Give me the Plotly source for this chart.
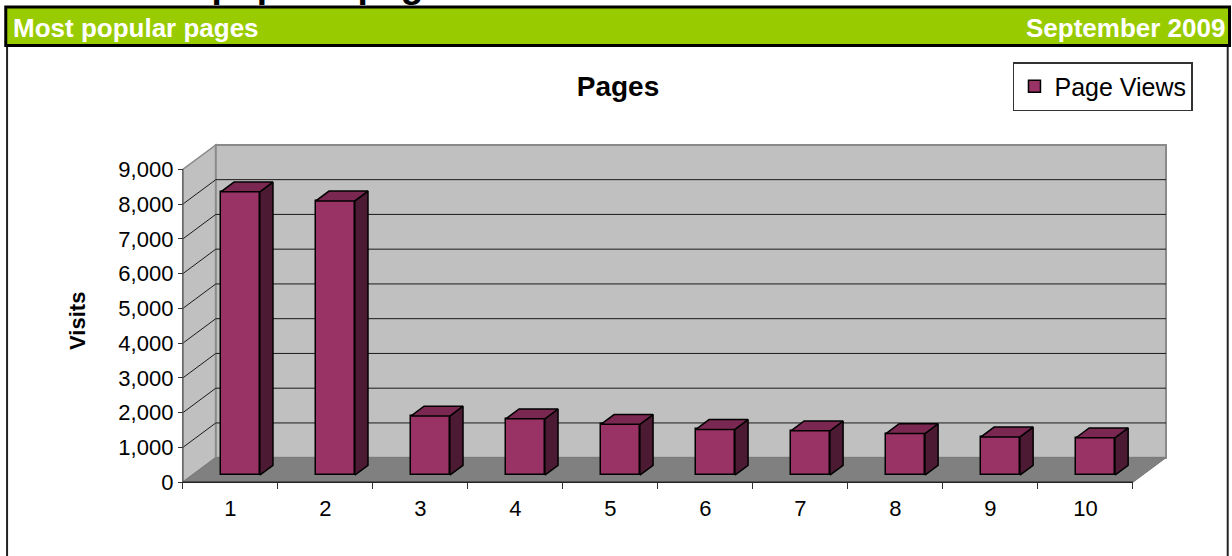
import plotly.graph_objects as go

# ---------------- data ----------------
pages = [1, 2, 3, 4, 5, 6, 7, 8, 9, 10]
page_labels = ["1", "2", "3", "4", "5", "6", "7", "8", "9", "10"]
page_views = [8150, 7890, 1700, 1620, 1460, 1315, 1275, 1195, 1100, 1075]
visit_ticks = [0, 1000, 2000, 3000, 4000, 5000, 6000, 7000, 8000, 9000]
visit_tick_text = ["0", "1,000", "2,000", "3,000", "4,000", "5,000",
                   "6,000", "7,000", "8,000", "9,000"]

# ---------------- geometry ----------------
W, H = 1232, 556
FONT = "Liberation Sans, Arial, sans-serif"
AX_X_PX, CAT_PX = 183.0, 95.0      # front-left corner x, px per category
AX_Y_PX, UNIT_PX = 482.0, 0.03474  # front floor y, px per visit
X_RANGE = [0.46, 10.9]
Y_RANGE = [-80, 9760]

ml = AX_X_PX - (0.5 - X_RANGE[0]) * CAT_PX
mr = W - (AX_X_PX + (X_RANGE[1] - 0.5) * CAT_PX)
mb = H - (AX_Y_PX - Y_RANGE[0] * UNIT_PX)
mt = AX_Y_PX - Y_RANGE[1] * UNIT_PX
pw = W - ml - mr
ph = H - mt - mb


def px_x(px):
    return (px - ml) / pw


def px_y(py):
    return (H - mb - py) / ph


DX = 33.0 / CAT_PX          # wall depth in category units
DY = 24.5 / UNIT_PX         # wall depth in value units
F0, F1 = 0.29, 0.69         # bar front/back depth fraction
BAR_OFF, BAR_W = -0.1, 0.41
base = F0 * DY
ddx = (F1 - F0) * DX
ddy = (F1 - F0) * DY
x_first, x_last = pages[0] - 0.5, pages[-1] + 0.5
y_top = visit_ticks[-1]

FRONT = "#993366"
SIDE = "#4d1a33"
TOP = "#7a2851"

fig = go.Figure()

fig.add_trace(go.Bar(
    x=pages, y=page_views, base=[base] * len(pages),
    offset=BAR_OFF, width=BAR_W, name="Page Views",
    marker=dict(color=FRONT, line=dict(color="black", width=1.5)),
))

side_x, side_y, top_x, top_y = [], [], [], []
for c, v in zip(pages, page_views):
    xl = c + BAR_OFF
    xr = xl + BAR_W
    yb = base
    yt = base + v
    side_x += [xr, xr, xr + ddx, xr + ddx, xr, None]
    side_y += [yb, yt, yt + ddy, yb + ddy, yb, None]
    top_x += [xl, xr, xr + ddx, xl + ddx, xl, None]
    top_y += [yt, yt, yt + ddy, yt + ddy, yt, None]

fig.add_trace(go.Scatter(x=side_x, y=side_y, mode="lines", fill="toself",
                         fillcolor=SIDE, line=dict(color="black", width=1.5),
                         showlegend=False, hoverinfo="skip"))
fig.add_trace(go.Scatter(x=top_x, y=top_y, mode="lines", fill="toself",
                         fillcolor=TOP, line=dict(color="black", width=1.5),
                         showlegend=False, hoverinfo="skip"))

shapes = []
# left wall
shapes.append(dict(type="path", xref="x", yref="y", layer="below",
                   path=f"M{x_first},0 L{x_first},{y_top} L{x_first+DX},{y_top+DY} L{x_first+DX},{DY} Z",
                   fillcolor="#c0c0c0", line=dict(color="#8a8a8a", width=1.5)))
# back wall
shapes.append(dict(type="rect", xref="x", yref="y", layer="below",
                   x0=x_first + DX, x1=x_last + DX, y0=DY, y1=y_top + DY,
                   fillcolor="#c0c0c0", line=dict(color="#8a8a8a", width=2)))
# floor
shapes.append(dict(type="path", xref="x", yref="y", layer="below",
                   path=f"M{x_first},0 L{x_last},0 L{x_last+DX},{DY} L{x_first+DX},{DY} Z",
                   fillcolor="#808080", line=dict(color="#7a7a7a", width=1)))
# gridlines
for t in visit_ticks[1:-1]:
    shapes.append(dict(type="line", xref="x", yref="y", layer="below",
                       x0=x_first + DX, x1=x_last + DX, y0=t + DY, y1=t + DY,
                       line=dict(color="#1a1a1a", width=1)))
    shapes.append(dict(type="line", xref="x", yref="y", layer="below",
                       x0=x_first, x1=x_first + DX, y0=t, y1=t + DY,
                       line=dict(color="#1a1a1a", width=1)))
# axis edges
shapes.append(dict(type="line", xref="x", yref="y", layer="below",
                   x0=x_first, x1=x_first, y0=0, y1=y_top,
                   line=dict(color="#666666", width=1.5)))
shapes.append(dict(type="line", xref="x", yref="y", layer="below",
                   x0=x_first, x1=x_last, y0=0, y1=0,
                   line=dict(color="#222222", width=1.5)))

# header band & frame
shapes.append(dict(type="rect", xref="paper", yref="paper",
                   x0=px_x(6), x1=px_x(1229.5), y0=px_y(45.5), y1=px_y(7),
                   fillcolor="#99cc00", line=dict(color="black", width=3)))
shapes.append(dict(type="line", xref="paper", yref="paper",
                   x0=px_x(7.3), x1=px_x(7.3), y0=px_y(47), y1=px_y(560),
                   line=dict(color="#222222", width=2)))
shapes.append(dict(type="line", xref="paper", yref="paper",
                   x0=px_x(1227.7), x1=px_x(1227.7), y0=px_y(47), y1=px_y(560),
                   line=dict(color="#222222", width=2)))

annotations = [
    dict(text="<b>Most popular pages</b>", xref="paper", yref="paper",
         x=px_x(115), y=px_y(5), xanchor="left", yanchor="bottom",
         showarrow=False, borderpad=0, borderwidth=0,
         font=dict(family=FONT, size=37, color="black")),
    dict(text="<b>Most popular pages</b>", xref="paper", yref="paper",
         x=px_x(11), y=px_y(27.5), xanchor="left", yanchor="middle",
         showarrow=False, font=dict(family=FONT, size=26, color="white")),
    dict(text="<b>September 2009</b>", xref="paper", yref="paper",
         x=px_x(1227), y=px_y(27.5), xanchor="right", yanchor="middle",
         showarrow=False, font=dict(family=FONT, size=26, color="white")),
    dict(text="<b>Visits</b>", xref="paper", yref="paper",
         x=px_x(77.5), y=px_y(320.5), xanchor="center", yanchor="middle",
         textangle=-90, showarrow=False,
         font=dict(family=FONT, size=22, color="black")),
]

fig.update_layout(
    width=W, height=H,
    margin=dict(l=ml, r=mr, t=mt, b=mb, pad=0),
    paper_bgcolor="white", plot_bgcolor="white",
    font=dict(family=FONT, color="black"),
    title=dict(text="<b>Pages</b>", xref="container", yref="container",
               x=618 / W, y=1 - 86 / H, xanchor="center", yanchor="middle",
               font=dict(family=FONT, size=28, color="black")),
    showlegend=True,
    legend=dict(x=px_x(1013), y=px_y(62), xanchor="left", yanchor="top",
                bgcolor="white", bordercolor="#333333", borderwidth=1.5,
                font=dict(family=FONT, size=25, color="black")),
    xaxis=dict(type="linear", range=X_RANGE, tickmode="array",
               tickvals=pages, ticktext=page_labels,
               ticks="outside", ticklen=6, tickcolor="rgba(0,0,0,0)",
               ticklabelstandoff=0,
               minor=dict(tickmode="linear", tick0=0.5, dtick=1,
                          ticks="outside", ticklen=6, tickcolor="#333333",
                          tickwidth=1, showgrid=False),
               showgrid=False, zeroline=False, showline=False,
               anchor="free", position=px_y(AX_Y_PX),
               tickfont=dict(family=FONT, size=22, color="black")),
    yaxis=dict(range=Y_RANGE, tickmode="array", tickvals=visit_ticks,
               ticktext=visit_tick_text, ticks="outside", ticklen=5,
               tickcolor="#333333", tickwidth=1,
               showgrid=False, zeroline=False, showline=False,
               anchor="free", position=px_x(AX_X_PX),
               tickfont=dict(family=FONT, size=22, color="black")),
    shapes=shapes,
    annotations=annotations,
    bargap=0,
)

fig.write_html("out.html")
